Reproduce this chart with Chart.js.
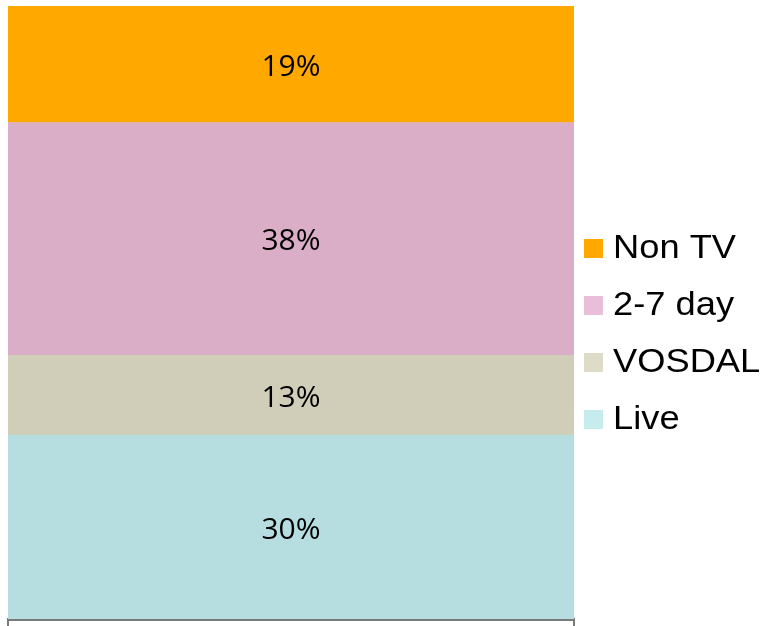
<!DOCTYPE html>
<html>
<head>
<meta charset="utf-8">
<script src="https://cdn.jsdelivr.net/npm/chart.js@4.4.1/dist/chart.umd.min.js"></script>
<style>
  html, body { margin: 0; padding: 0; background: #fff; }
  #wrap { width: 767px; height: 626px; }
</style>
</head>
<body>
<div id="wrap"><canvas id="myChart" width="767" height="626"></canvas></div>
<script>
// stacked bottom to top
const segments = ["Live", "VOSDAL", "2-7 day", "Non TV"];
const shares = [30, 13, 38, 19];
const barColors = ["#B6DEE0", "#D0CEB9", "#D9AEC6", "#FFA800"];
const swatchColors = ["#C6ECEE", "#DEDCC9", "#E8BED8", "#FFA800"];

let ctx = document.getElementById("myChart").getContext("2d");

// percentage labels in the middle of each segment
const segmentLabels = {
  id: "segmentLabels",
  afterDatasetsDraw(chart) {
    const c = chart.ctx;
    c.save();
    c.fillStyle = "#000";
    c.font = "30px 'Open Sans'";
    c.textAlign = "center";
    c.textBaseline = "middle";
    chart.data.datasets.forEach((ds, i) => {
      const bar = chart.getDatasetMeta(i).data[0];
      const mid = (bar.y + bar.base) / 2;
      c.fillText(ds.data[0] + "%", bar.x, mid + 3);
    });
    c.restore();
  },
};

// legend on the right, top item = top segment
const sideLegend = {
  id: "sideLegend",
  afterDraw(chart) {
    const c = chart.ctx;
    const x = 584;
    const top = 239;
    const step = 57;
    c.save();
    c.font = "33px 'Liberation Sans'";
    c.textBaseline = "middle";
    for (let k = 0; k < segments.length; k++) {
      const i = segments.length - 1 - k;
      const y = top + k * step;
      c.fillStyle = swatchColors[i];
      c.fillRect(x, y, 19, 19);
      c.fillStyle = "#000";
      c.save();
      c.translate(x + 29, y + 9.5);
      c.scale(1.1, 1);
      c.fillText(segments[i], 0, 0);
      c.restore();
    }
    c.restore();
  },
};

new Chart(ctx, {
  type: "bar",
  data: {
    labels: [""],
    datasets: segments.map((name, i) => ({
      label: name,
      data: [shares[i]],
      backgroundColor: barColors[i],
      borderWidth: 0,
      categoryPercentage: 1,
      barPercentage: 1,
    })),
  },
  options: {
    responsive: false,
    animation: false,
    layout: { padding: { left: 8, top: 6, right: 193, bottom: 0 } },
    plugins: {
      legend: { display: false },
      tooltip: { enabled: false },
    },
    scales: {
      x: {
        z: 1,
        stacked: true,
        offset: true,
        ticks: { display: false },
        grid: {
          offset: true,
          drawOnChartArea: false,
          drawTicks: true,
          tickLength: 7,
          color: "#7A7A7A",
          lineWidth: 2,
        },
        border: { display: true, color: "#7A7A7A", width: 3 },
      },
      y: {
        stacked: true,
        display: false,
        min: 0,
        max: 100,
      },
    },
  },
  plugins: [segmentLabels, sideLegend],
});
</script>
</body>
</html>
